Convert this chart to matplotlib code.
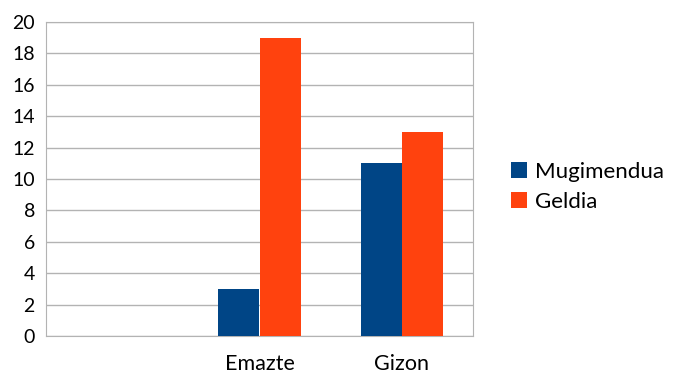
import matplotlib.pyplot as plt
import numpy as np

plt.rcParams.update({'font.size': 14, 'font.family': ['Lato', 'DejaVu Sans']})

categories = ['', 'Emazte', 'Gizon']
mugimendua = [0, 3, 11]
geldia = [0, 19, 13]
series_names = ['Mugimendua', 'Geldia']
colors = ['#004586', '#ff420e']

fig = plt.figure(figsize=(6.73, 3.74), dpi=100)
ax = fig.add_axes([46/673, 38/374, (473-46)/673, (336-22)/374])

x = np.arange(len(categories))
w = 0.29
ax.bar(x - w/2, mugimendua, w, color=colors[0], label=series_names[0], zorder=3)
ax.bar(x + w/2, geldia, w, color=colors[1], label=series_names[1], zorder=3)

ax.set_xlim(-0.5, len(categories) - 0.5)
ax.set_ylim(0, 20)
ax.set_yticks(range(0, 21, 2))
ax.set_xticks(x)
ax.set_xticklabels(categories, fontsize=15.5)
ax.tick_params(length=0, pad=8)
ax.tick_params(axis='x', pad=13)
ax.yaxis.grid(True, color='#b3b3b3', linewidth=1, zorder=0)
for s in ax.spines.values():
    s.set_color('#b3b3b3')

fig.legend(loc='center left', bbox_to_anchor=(491/673, 0.5), frameon=False,
           fontsize=16, handlelength=0.7, handleheight=0.7, handletextpad=0.4,
           labelspacing=0.45)

fig.savefig('out.png', dpi=100)
